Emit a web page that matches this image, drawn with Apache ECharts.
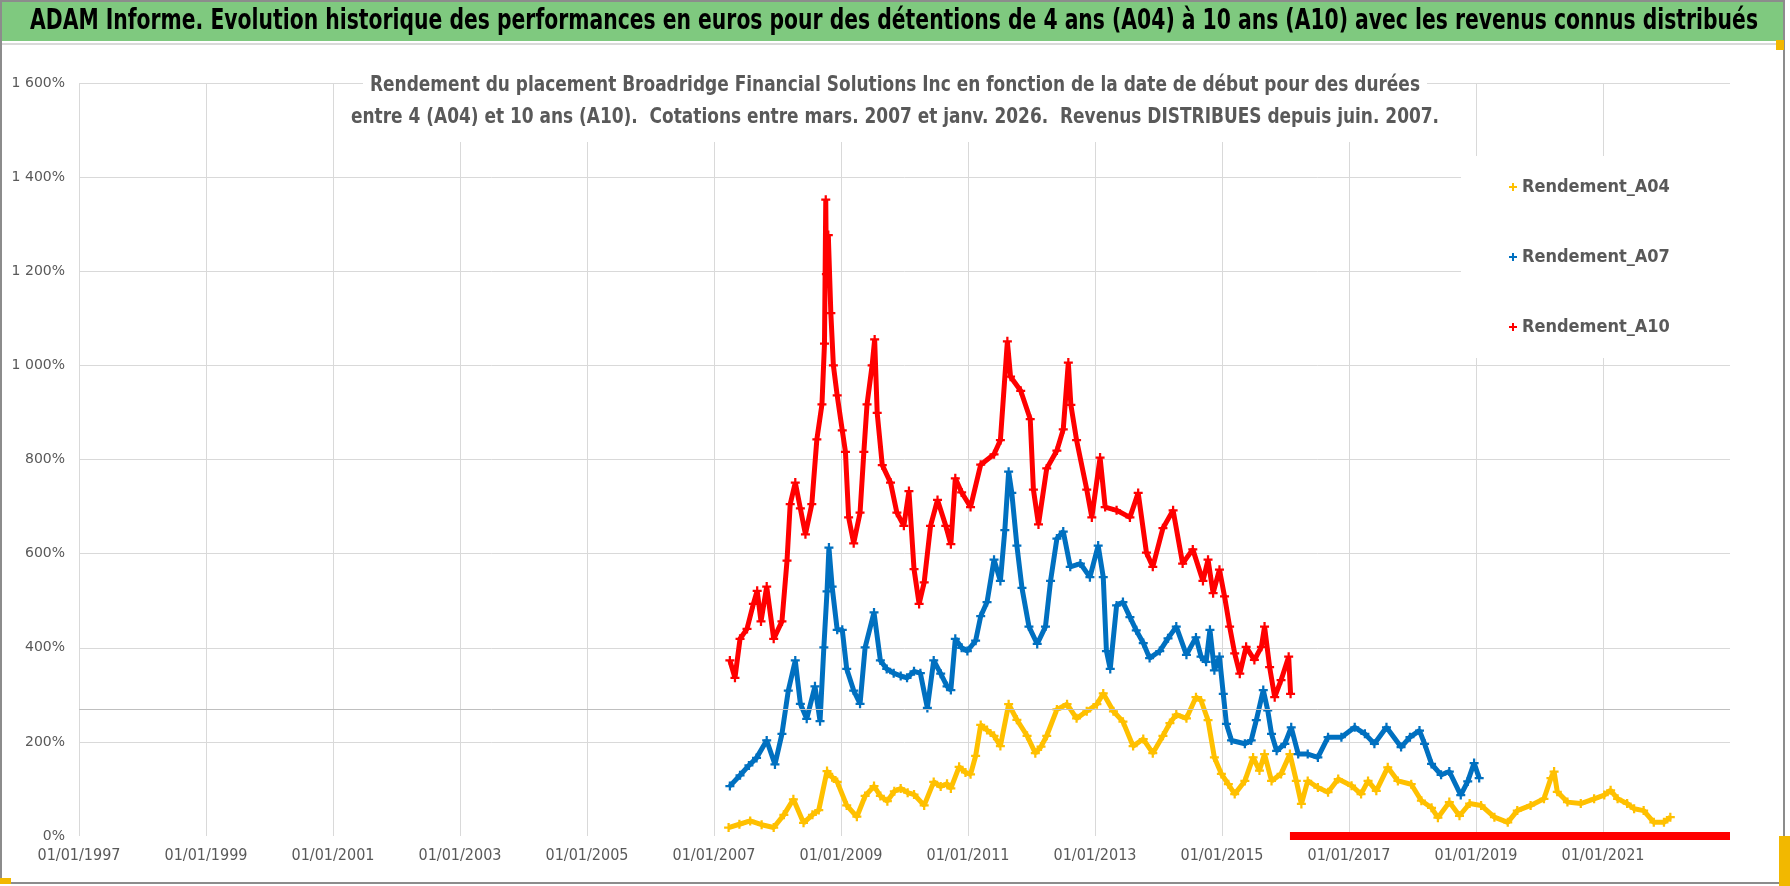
<!DOCTYPE html>
<html><head><meta charset="utf-8">
<script src="https://cdn.jsdelivr.net/npm/echarts@6.0.0/dist/echarts.min.js"></script>
<style>html,body{margin:0;padding:0;background:#fff}#c{width:1790px;height:886px}</style>
</head><body><div id="c"></div>
<script>
// ---- Data (x = start date as decimal year, y = return in %) ----
const mainTitle = "ADAM Informe. Evolution historique des performances en euros pour des détentions de 4 ans (A04) à 10 ans (A10) avec les revenus connus distribués";
const subTitleLines = ["Rendement du placement Broadridge Financial Solutions Inc en fonction de la date de début pour des durées",
                       "entre 4 (A04) et 10 ans (A10).  Cotations entre mars. 2007 et janv. 2026.  Revenus DISTRIBUES depuis juin. 2007."];
const seriesNames = ["Rendement_A04", "Rendement_A07", "Rendement_A10"];
const xTickYears = [1997,1999,2001,2003,2005,2007,2009,2011,2013,2015,2017,2019,2021,2023];
const yTicks = [0,200,400,600,800,1000,1200,1400,1600];

const a04 = [
[2007.23,18],[2007.4,25],[2007.57,32],[2007.75,24],[2007.94,18],[2008.1,45],[2008.25,78],[2008.41,28],[2008.55,45],[2008.65,55],
[2008.78,138],[2008.86,125],[2008.94,115],[2009.09,65],[2009.25,41],[2009.38,85],[2009.52,106],[2009.62,85],[2009.73,74],[2009.84,95],
[2009.94,101],[2010.05,92],[2010.15,88],[2010.31,65],[2010.46,115],[2010.57,105],[2010.67,111],[2010.73,101],[2010.86,147],[2010.96,135],
[2011.04,131],[2011.12,170],[2011.2,236],[2011.3,225],[2011.41,213],[2011.51,191],[2011.64,280],[2011.77,247],[2011.93,213],[2012.06,176],
[2012.15,190],[2012.24,213],[2012.4,269],[2012.56,280],[2012.71,250],[2012.87,265],[2013.03,280],[2013.13,303],[2013.29,265],[2013.44,243],
[2013.6,191],[2013.76,206],[2013.91,176],[2014.07,213],[2014.18,240],[2014.28,258],[2014.44,250],[2014.59,295],[2014.67,288],[2014.78,246],
[2014.88,167],[2014.99,132],[2015.1,110],[2015.2,89],[2015.36,117],[2015.49,167],[2015.59,139],[2015.67,174],[2015.78,117],[2015.93,132],
[2016.07,174],[2016.17,117],[2016.25,68],[2016.35,117],[2016.51,103],[2016.67,93],[2016.83,121],[2017.04,107],[2017.19,89],[2017.3,117],
[2017.43,96],[2017.61,146],[2017.77,117],[2017.98,110],[2018.14,75],[2018.3,60],[2018.4,39],[2018.58,72],[2018.74,43],[2018.9,69],
[2019.08,65],[2019.29,40],[2019.5,29],[2019.65,54],[2019.86,65],[2020.07,79],[2020.18,123],[2020.23,137],[2020.28,94],[2020.44,72],
[2020.65,69],[2020.86,79],[2021.02,87],[2021.12,97],[2021.23,79],[2021.38,69],[2021.49,58],[2021.64,54],[2021.8,29],[2021.96,29],[2022.06,40]
];
const a07 = [
[2007.25,106],[2007.41,129],[2007.55,150],[2007.67,166],[2007.83,203],[2007.96,152],[2008.07,217],[2008.17,309],[2008.28,373],[2008.36,281],
[2008.46,249],[2008.59,318],[2008.67,244],[2008.73,401],[2008.78,520],[2008.81,613],[2008.86,530],[2008.94,438],[2009.02,438],[2009.09,355],
[2009.2,309],[2009.3,281],[2009.38,401],[2009.52,475],[2009.62,373],[2009.72,355],[2009.83,346],[2009.94,340],[2010.04,336],[2010.15,350],
[2010.25,346],[2010.36,272],[2010.46,373],[2010.57,345],[2010.67,318],[2010.73,310],[2010.8,419],[2010.9,400],[2010.99,393],[2011.12,415],
[2011.2,467],[2011.3,497],[2011.41,587],[2011.51,542],[2011.58,650],[2011.64,774],[2011.69,729],[2011.77,617],[2011.85,527],[2011.96,445],
[2012.09,408],[2012.22,445],[2012.3,542],[2012.4,632],[2012.5,647],[2012.61,572],[2012.77,579],[2012.92,550],[2013.05,617],[2013.13,550],
[2013.18,393],[2013.24,355],[2013.34,490],[2013.44,497],[2013.55,465],[2013.65,437],[2013.76,410],[2013.86,378],[2014.02,393],[2014.15,420],
[2014.28,445],[2014.44,385],[2014.59,422],[2014.67,381],[2014.75,370],[2014.81,438],[2014.88,352],[2014.96,381],[2015.02,302],[2015.07,238],
[2015.15,203],[2015.36,196],[2015.46,203],[2015.54,246],[2015.65,310],[2015.72,267],[2015.78,217],[2015.86,181],[2015.99,196],[2016.09,231],
[2016.2,174],[2016.35,174],[2016.51,167],[2016.67,210],[2016.88,210],[2017.09,231],[2017.25,217],[2017.4,196],[2017.59,231],[2017.82,189],
[2017.96,210],[2018.11,224],[2018.19,196],[2018.3,153],[2018.45,130],[2018.58,137],[2018.76,87],[2018.87,116],[2018.97,155],[2019.05,123]
];
const a10 = [
[2007.25,373],[2007.33,336],[2007.41,419],[2007.52,440],[2007.62,493],[2007.68,521],[2007.74,456],[2007.83,530],[2007.94,419],[2008.07,456],
[2008.15,585],[2008.2,705],[2008.28,751],[2008.36,696],[2008.44,641],[2008.54,705],[2008.62,843],[2008.7,917],[2008.74,1046],[2008.76,1352],
[2008.77,1194],[2008.8,1277],[2008.84,1111],[2008.88,1000],[2008.94,936],[2009.02,862],[2009.07,816],[2009.12,677],[2009.2,622],[2009.3,687],
[2009.36,816],[2009.41,917],[2009.49,1000],[2009.53,1055],[2009.57,899],[2009.65,788],[2009.78,751],[2009.88,687],[2009.99,659],[2010.07,733],
[2010.15,567],[2010.23,493],[2010.31,539],[2010.41,659],[2010.52,714],[2010.65,659],[2010.73,620],[2010.8,760],[2010.9,730],[2011.04,699],
[2011.2,789],[2011.41,811],[2011.51,841],[2011.62,1051],[2011.67,976],[2011.83,946],[2011.98,886],[2012.03,736],[2012.11,662],[2012.24,781],
[2012.4,819],[2012.5,864],[2012.58,1006],[2012.62,916],[2012.71,841],[2012.87,736],[2012.95,677],[2013.08,804],[2013.16,699],[2013.34,692],
[2013.55,677],[2013.68,729],[2013.81,602],[2013.91,572],[2014.07,654],[2014.23,692],[2014.38,579],[2014.54,609],[2014.7,542],[2014.78,587],
[2014.86,516],[2014.96,566],[2015.04,509],[2015.12,445],[2015.2,388],[2015.28,345],[2015.38,402],[2015.51,374],[2015.62,402],[2015.67,445],
[2015.75,359],[2015.83,295],[2015.93,331],[2016.05,381],[2016.08,302]
];
// periods where the holding horizon is not yet complete: return shown as 0 %
const a04Zero = [[2022.07,0],[2023.0,0]];
const a07Zero = [[2019.06,0],[2023.0,0]];
const a10Zero = [[2016.07,0],[2023.0,0]];

// ---- Styling ----
const colors = ['#FFC000', '#0070C0', '#FF0000'];
const COND = '"DejaVu Sans Condensed", "Liberation Sans Narrow", sans-serif';
const PLUS = 'path://M3,0H5V3H8V5H5V8H3V5H0V3H3Z';
const GRID = '#d9d9d9';
const TXT = '#595959';

function textScale(text, font, target) {
  const ctx = document.createElement('canvas').getContext('2d');
  ctx.font = font;
  const w = ctx.measureText(text).width;
  return w > 0 ? target / w : 1;
}
const titleFont = 'bold 28px ' + COND;
const subFont = 'bold 21px ' + COND;
const titleScale = textScale(mainTitle, titleFont, 1728);
const subScale = textScale(subTitleLines[0], subFont, 1050);

function dataSeries(name, data, color) {
  return {
    name, type: 'line', data, symbol: PLUS, symbolSize: 9, showAllSymbol: true,
    itemStyle: { color }, lineStyle: { color, width: 5 }, z: 3,
    emphasis: { disabled: true }, animation: false
  };
}
function zeroSeries(name, data, color, z) {
  return {
    name, type: 'line', data, symbol: 'none',
    lineStyle: { color, width: 8 }, itemStyle: { color }, z,
    emphasis: { disabled: true }, animation: false
  };
}
function fmtPct(v) {
  if (v >= 1000) { const r = String(v % 1000).padStart(3, '0'); return Math.floor(v / 1000) + ' ' + r + '%'; }
  return v + '%';
}

const chart = echarts.init(document.getElementById('c'), null, { renderer: 'canvas' });
const xSplitColors = xTickYears.map((y, i) => i === xTickYears.length - 1 ? 'rgba(0,0,0,0)' : GRID);
const ySplitColors = yTicks.map((v, i) => i === 0 ? 'rgba(0,0,0,0)' : GRID);

chart.setOption({
  backgroundColor: '#ffffff',
  animation: false,
  grid: { left: 79, right: 60, top: 83, bottom: 50, containLabel: false },
  xAxis: {
    type: 'value', min: xTickYears[0], max: xTickYears[xTickYears.length - 1], interval: 2,
    axisLine: { show: false }, axisTick: { show: false },
    splitLine: { show: true, lineStyle: { color: xSplitColors, width: 1 } },
    axisLabel: {
      margin: 12, color: TXT, fontFamily: COND, fontSize: 16, showMaxLabel: false,
      formatter: v => xTickYears.includes(v) && v !== 2023 ? '01/01/' + v : ''
    }
  },
  yAxis: {
    type: 'value', min: yTicks[0], max: yTicks[yTicks.length - 1], interval: 200,
    axisLine: { show: false }, axisTick: { show: false },
    splitLine: { show: true, lineStyle: { color: ySplitColors, width: 1 } },
    axisLabel: { margin: 14, color: TXT, fontFamily: '"DejaVu Sans", Verdana, sans-serif', fontSize: 14, formatter: fmtPct }
  },
  legend: {
    orient: 'vertical', left: 1461, top: 156, backgroundColor: '#ffffff',
    padding: [22, 72, 22, 48], itemGap: 52, itemWidth: 8, itemHeight: 8,
    textStyle: { fontSize: 18, fontWeight: 'bold', color: TXT, fontFamily: COND },
    data: seriesNames.map(n => ({ name: n, icon: PLUS })),
    selectedMode: false
  },
  graphic: [
    { type: 'rect', z: -10, shape: { x: 1, y: 1, width: 1783, height: 882 }, style: { fill: '#ffffff', stroke: '#8c8c8c', lineWidth: 2 } },
    { type: 'rect', z: -9, shape: { x: 2, y: 2, width: 1781, height: 39 }, style: { fill: '#7fc97f' } },
    { type: 'rect', z: -9, shape: { x: 2, y: 43, width: 1781, height: 2 }, style: { fill: '#d9d9d9' } },
    { type: 'text', z: 10, x: 30, y: 22, scaleX: titleScale, style: { x: 0, y: 0, text: mainTitle, fill: '#000000', font: titleFont, align: 'left', verticalAlign: 'middle' } },
    { type: 'rect', z: 9, shape: { x: 363, y: 68, width: 1064, height: 74 }, style: { fill: '#ffffff' } },
    { type: 'text', z: 10, x: 895, y: 86, scaleX: subScale, style: { x: 0, y: 0, text: subTitleLines[0], fill: TXT, font: subFont, align: 'center', verticalAlign: 'middle' } },
    { type: 'text', z: 10, x: 895, y: 118, scaleX: subScale, style: { x: 0, y: 0, text: subTitleLines[1], fill: TXT, font: subFont, align: 'center', verticalAlign: 'middle' } },
    { type: 'rect', z: 11, shape: { x: 0, y: 878, width: 11, height: 6 }, style: { fill: '#f2b800' } },
    { type: 'rect', z: 11, shape: { x: 1776, y: 40, width: 8, height: 10 }, style: { fill: '#f2b800' } },
    { type: 'rect', z: 11, shape: { x: 1779, y: 836, width: 11, height: 50 }, style: { fill: '#f2b800' } }
  ],
  series: [
    Object.assign(zeroSeries(seriesNames[0], a04Zero, colors[0], 2), {
      markLine: { silent: true, symbol: 'none', label: { show: false }, lineStyle: { color: '#bfbfbf', width: 1, type: 'solid' }, data: [{ yAxis: 270 }], animation: false }
    }),
    zeroSeries(seriesNames[1], a07Zero, colors[1], 2),
    dataSeries(seriesNames[0], a04, colors[0]),
    dataSeries(seriesNames[1], a07, colors[1]),
    dataSeries(seriesNames[2], a10, colors[2]),
    zeroSeries(seriesNames[2], a10Zero, colors[2], 4)
  ]
});
</script></body></html>
